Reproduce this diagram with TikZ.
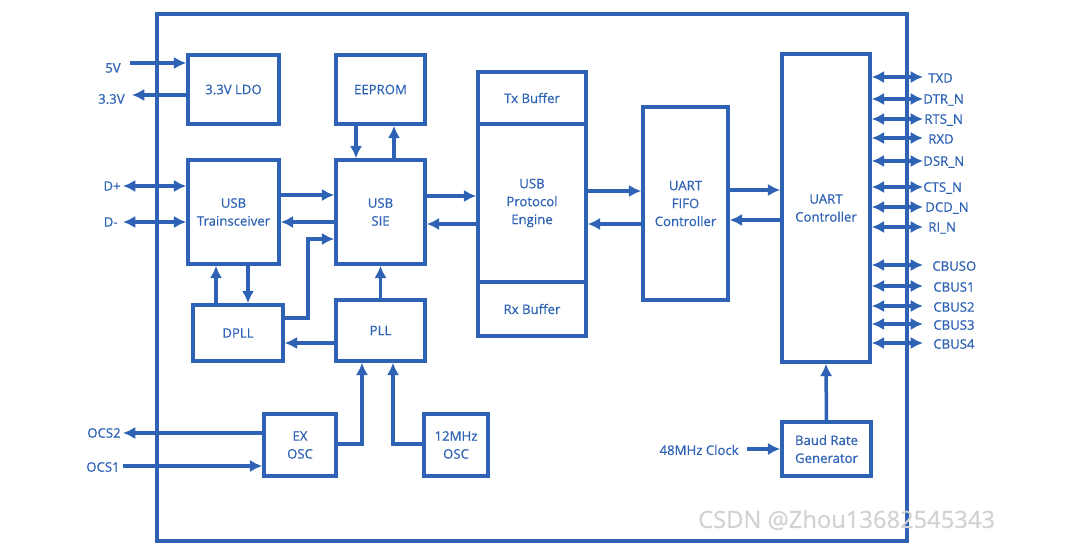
\documentclass[tikz,border=0pt]{standalone}
\usepackage{fontspec}
\setmainfont{Open Sans}[FakeBold=0.6]
\usetikzlibrary{arrows.meta}
\tikzset{>={Latex[length=7pt,width=7pt]}}
\definecolor{chipblue}{RGB}{46,98,180}
\tikzstyle{blk}=[draw=chipblue,line width=2pt,text=chipblue,align=center,inner sep=0pt]
\tikzstyle{wire}=[chipblue,line width=2pt]
\tikzstyle{pin}=[text=chipblue,inner sep=0pt]
\tikzset{sz/.style 2 args={minimum width=#1*0.02cm,minimum height=#2*0.02cm}}
\newcommand\blkfont{\fontsize{7.5}{10.2}\selectfont}

\begin{document}
\begin{tikzpicture}[x=0.02cm,y=-0.02cm,font=\blkfont]
  \useasboundingbox (0,0) rectangle (1080,554);
  \draw[wire] (157,14) rectangle (907,541); % chip outline

  % blocks
  \node[blk,sz={91}{69}]  (ldo)    at (233.5,89.5) {3.3V LDO};
  \node[blk,sz={89}{69}]  (eeprom) at (380.5,89.5) {EEPROM};
  \node[blk,sz={91}{104}] (trx)    at (233.5,212)  {USB\\Trainsceiver};
  \node[blk,sz={89}{104}] (sie)    at (380.5,212)  {USB\\SIE};
  \node[blk,sz={90}{56}]  (dpll)   at (238,333)    {DPLL};
  \node[blk,sz={89}{61}]  (pll)    at (380.5,330.5) {PLL};
  \node[blk,sz={72}{62}]  (exosc)  at (300,445)    {EX\\OSC};
  \node[blk,sz={64}{62}]  (xtal)   at (456,445)    {12MHz\\OSC};
  \node[blk,sz={108}{52}] (txbuf)  at (532,98)     {Tx Buffer};
  \node[blk,sz={108}{158}] (engine) at (532,203)   {USB\\Protocol\\Engine};
  \node[blk,sz={108}{54}] (rxbuf)  at (532,309)    {Rx Buffer};
  \node[blk,sz={85}{193}] (fifo)   at (685.5,203.5) {UART\\FIFO\\Controller};
  \node[blk,sz={88}{308}] (uart)   at (826,208)    {UART\\Controller};
  \node[blk,sz={89}{54}]  (baud)   at (826.5,449)  {Baud Rate\\Generator};

  % internal wires
  \draw[wire,->] (trx.east |- 0,195) -- (sie.west |- 0,195);
  \draw[wire,<-] (trx.east |- 0,222) -- (sie.west |- 0,222);
  \draw[wire,->] (dpll.east |- 0,318) -- (308,318) |- (sie.west |- 0,239);
  \draw[wire,->] (eeprom.south -| 356,0) -- (sie.north -| 356,0);
  \draw[wire,->] (sie.north -| 394,0) -- (eeprom.south -| 394,0);
  \draw[wire,->] (dpll.north -| 216,0) -- (trx.south -| 216,0);
  \draw[wire,->] (trx.south -| 248,0) -- (dpll.north -| 248,0);
  \draw[wire,->] (pll.north) -- (sie.south);
  \draw[wire,->] (pll.west |- 0,343) -- (dpll.east |- 0,343);
  \draw[wire,->] (exosc.east |- 0,444) -| (pll.south -| 362,0);
  \draw[wire,->] (xtal.west |- 0,444) -| (pll.south -| 393,0);
  \draw[wire,->] (sie.east |- 0,196) -- (engine.west |- 0,196);
  \draw[wire,<-] (sie.east |- 0,224) -- (engine.west |- 0,224);
  \draw[wire,->] (engine.east |- 0,191) -- (fifo.west |- 0,191);
  \draw[wire,<-] (engine.east |- 0,224) -- (fifo.west |- 0,224);
  \draw[wire,->] (fifo.east |- 0,190) -- (uart.west |- 0,190);
  \draw[wire,<-] (fifo.east |- 0,220) -- (uart.west |- 0,220);
  \draw[wire,->] (baud.north) -- (uart.south);

  % pins on the left
  \coordinate (p5v) at (130,63);    \node[pin,anchor=east] (l5v) at (121,68) {5V};
  \coordinate (p33) at (132,95);    \node[pin,anchor=east] (l33) at (125,99) {3.3V};
  \coordinate (pdp) at (123,186);   \node[pin,anchor=east] (ldp) at (121,186) {D+};
  \coordinate (pdm) at (123,222);   \node[pin,anchor=east] (ldm) at (118,222) {D-};
  \coordinate (pocs2) at (123,433); \node[pin,anchor=east] (locs2) at (121,433) {OCS2};
  \coordinate (pocs1) at (123,466); \node[pin,anchor=east] (locs1) at (120,467) {OCS1};
  \coordinate (pclk) at (747,449);  \node[pin,anchor=east] (lclk) at (739,450) {48MHz Clock};
  \draw[wire,->] (p5v) -- (ldo.west |- p5v);
  \draw[wire,<-] (p33) -- (ldo.west |- p33);
  \draw[wire,<->] (pdp) -- (trx.west |- pdp);
  \draw[wire,<->] (pdm) -- (trx.west |- pdm);
  \draw[wire,<-] (pocs2) -- (exosc.west |- pocs2);
  \draw[wire,->] (pocs1) -- (exosc.west |- pocs1);
  \draw[wire,->] (pclk) -- (baud.west |- pclk);

  % pins on the right
  \foreach \y/\txt/\lx [count=\i] in {77/TXD/928, 99/DTR\_N/923, 119/RTS\_N/924, 138/RXD/928,
      161/DSR\_N/923, 187/CTS\_N/923, 207/DCD\_N/925, 227/RI\_N/928, 265/CBUSO/932,
      286/CBUS1/933, 306/CBUS2/933, 324/CBUS3/933, 343/CBUS4/933} {
    \coordinate (r\i) at (923,\y);
    \node[pin,anchor=west] (lr\i) at (\lx,\y+1) {\txt};
    \draw[wire,<->] (uart.east |- r\i) -- (r\i);
  }

  \node[text=gray!35,font=\fontsize{13.5}{16}\selectfont,anchor=west] (wmark) at (692,520) {CSDN @Zhou13682545343};
\end{tikzpicture}
\end{document}
